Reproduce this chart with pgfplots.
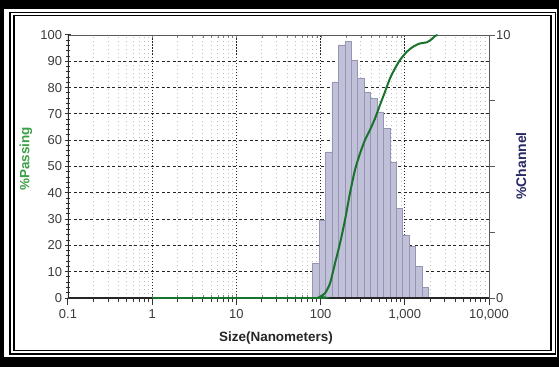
\documentclass[border=0pt]{standalone}
\usepackage{pgfplots}
\pgfplotsset{compat=1.18}
\usepackage{fontspec}
\setmainfont{Liberation Sans}
\definecolor{barfill}{RGB}{192,192,216}
\definecolor{baredge}{RGB}{150,150,180}
\definecolor{curvegreen}{RGB}{25,115,45}
\definecolor{passgreen}{RGB}{60,160,70}
\definecolor{chnavy}{RGB}{40,40,100}
\definecolor{ticktext}{RGB}{60,60,60}
\definecolor{axisgray}{RGB}{90,90,90}

\pgfplotsset{myaxis/.style={xmin=0.1, xmax=10000, scale only axis,
  width=421bp, height=263bp, at={(68bp,69bp)}, anchor=south west}}

\pgfplotstableread{
x y
80.5 1.33
95.9 2.97
114.6 5.56
136.5 8.22
162.6 9.62
194.1 9.75
231.2 9.05
275.4 8.35
328.9 7.84
391.7 7.59
466.7 7.08
557.2 6.45
663.7 5.18
790.7 3.41
944.1 2.40
1124.6 1.95
1339.7 1.19
1599.6 0.41
1905.5 0.41
}\channeldata

\pgfplotstableread{
x y
1 0
90 0
98.4 0.5
112.7 1.8
129.4 5.6
148.3 13.2
169.9 20.8
195 29.7
223 39.8
256 48.7
294 55.0
337 60.1
386 63.9
443 68.3
507 73.4
582 78.4
667 83.5
765 87.3
877 90.5
1054 93.6
1263 95.6
1517 96.8
1820 97.2
2084 98.4
2285 99.6
2450 100
}\passingdata

\begin{document}
\begin{tikzpicture}[x=1bp,y=1bp]
\fill[black] (0,0) rectangle (559,367);
\fill[white] (4,10) rectangle (557,358);
\draw[line width=1.3bp] (10,13) rectangle (555.5,354.7);
\draw[line width=1.1bp] (14,16.3) rectangle (551,351.3);

% minor x grid
\begin{axis}[xmode=log, myaxis, ymin=0, ymax=100,
  xtick={0.1,1,10,100,1000,10000},
  minor xtick={0.2,0.3,0.4,0.5,0.6,0.7,0.8,0.9,2,3,4,5,6,7,8,9,20,30,40,50,60,70,80,90,200,300,400,500,600,700,800,900,2000,3000,4000,5000,6000,7000,8000,9000},
  ytick=\empty, xticklabels={}, major tick length=0, minor tick length=0,
  axis line style={draw=none}, xminorgrids=true,
  minor grid style={gray!50, line width=0.8bp, dash pattern=on 1bp off 3bp}]
\end{axis}

% major grids
\begin{axis}[xmode=log, myaxis, ymin=0, ymax=100,
  xtick={1,10,100,1000}, ytick={10,20,...,90},
  xticklabels={}, yticklabels={}, major tick length=0,
  axis line style={draw=none}, xmajorgrids=true, ymajorgrids=true,
  x grid style={black!85, line width=1.1bp, dash pattern=on 1.5bp off 1.5bp},
  y grid style={black!85, line width=0.8bp, dash pattern=on 3bp off 2.5bp}]
\end{axis}

% bars, right axis
\begin{axis}[xmode=log, myaxis, ymin=0, ymax=10,
  axis x line=none, axis y line*=right,
  ytick={0,2.5,5,7.5,10}, yticklabels={0,,,,10},
  tick align=outside, major tick length=6bp,
  y axis line style={axisgray, line width=0.9bp},
  ytick style={axisgray, line width=0.9bp},
  /pgf/number format/assume math mode=true,
  yticklabel style={font=\fontsize{13}{15}\selectfont, text=ticktext, inner sep=1bp},
  ylabel={\%Channel},
  ylabel style={at={(axis description cs:1.076,0.502)}, anchor=center, rotate=0,
    font=\bfseries\fontsize{14}{16}\selectfont, text=chnavy}]
\addplot[ybar interval, fill=barfill, draw=baredge, line width=0.5bp] table {\channeldata};
\end{axis}

% curve, left & bottom axes
\begin{axis}[xmode=log, myaxis, ymin=0, ymax=100,
  xtick={0.1,1,10,100,1000,10000},
  xticklabels={0.1,1,10,100,{1,000},{10,000}},
  minor xtick={0.2,0.3,0.4,0.5,0.6,0.7,0.8,0.9,2,3,4,5,6,7,8,9,20,30,40,50,60,70,80,90,200,300,400,500,600,700,800,900,2000,3000,4000,5000,6000,7000,8000,9000},
  ytick={0,10,...,100}, minor y tick num=4,
  xtick pos=bottom, ytick pos=left,
  xtick align=outside, ytick align=center,
  major tick length=7bp, minor tick length=4bp,
  axis line style={axisgray, line width=0.9bp},
  every tick/.style={black!80, line width=1bp},
  /pgf/number format/assume math mode=true,
  ticklabel style={font=\fontsize{13}{15}\selectfont, text=ticktext},
  xticklabel style={yshift=-1bp},
  yticklabel style={xshift=1bp},
  xlabel={Size(Nanometers)},
  xlabel style={at={(axis description cs:0.494,-0.152)}, anchor=center,
    font=\bfseries\fontsize{13.5}{16}\selectfont, text=black!85},
  ylabel={\%Passing},
  ylabel style={at={(axis description cs:-0.1,0.529)}, anchor=center,
    font=\bfseries\fontsize{13.5}{16}\selectfont, text=passgreen}]
\draw[black!85, line width=1.6bp] (axis cs:0.1,0) -- (axis cs:10000,0);
\draw[black!85, line width=1.4bp] (axis cs:0.1,0) -- (axis cs:0.1,100);
\addplot[curvegreen, line width=2bp, smooth, tension=0.4] table {\passingdata};
\end{axis}
\end{tikzpicture}
\end{document}
